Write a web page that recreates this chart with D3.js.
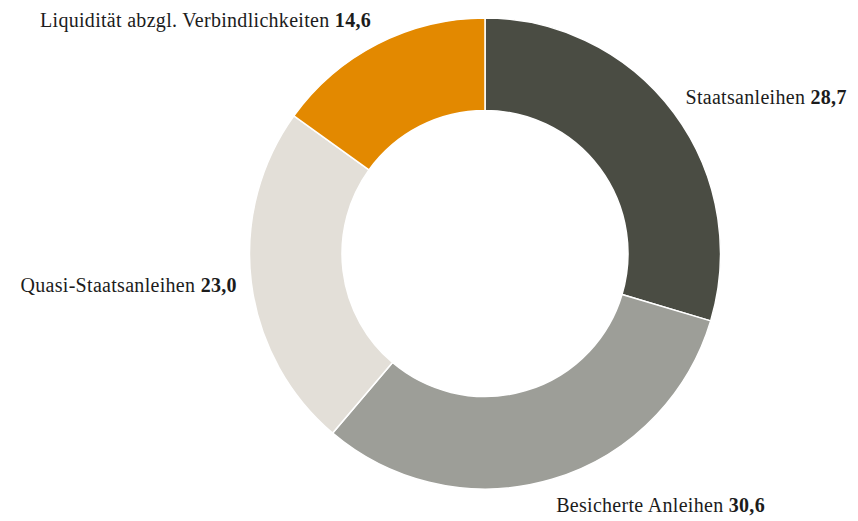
<!DOCTYPE html>
<html>
<head>
<meta charset="utf-8">
<script src="https://cdn.jsdelivr.net/npm/d3@7"></script>
<style>
  body { margin: 0; background: #fff; }
  text { font-family: "Liberation Serif", "DejaVu Serif", serif; font-size: 20px; letter-spacing: 0.3px; fill: #1c1c1c; }
</style>
</head>
<body>
<div id="chart"></div>
<script>
const width = 858, height = 521;

// Daten
const kategorien = ["Staatsanleihen", "Besicherte Anleihen", "Quasi-Staatsanleihen", "Liquidität abzgl. Verbindlichkeiten"];
const werte = [28.7, 30.6, 23.0, 14.6];
const farben = ["#4a4c43", "#9d9e98", "#e3dfd8", "#e38900"];

const data = kategorien.map((k, i) => ({ name: k, wert: werte[i], farbe: farben[i] }));

const cx = 485, cy = 253.5;
const rOuter = 235.5, rInner = 143;
// Beschriftungen liegen auf einer leichten Ellipse
const rLabelX = 250, rLabelY = 262;

const svg = d3.select("#chart")
    .append("svg")
    .attr("width", width)
    .attr("height", height);

const g = svg.append("g")
    .attr("transform", `translate(${cx},${cy})`);

const pie = d3.pie()
    .value(d => d.wert)
    .sort(null);

const arc = d3.arc()
    .innerRadius(rInner)
    .outerRadius(rOuter);

const arcs = pie(data);

// Segmente
g.selectAll("path")
    .data(arcs)
    .enter()
    .append("path")
    .attr("d", arc)
    .attr("fill", d => d.data.farbe)
    .attr("stroke", "#fff")
    .attr("stroke-width", 1.5);

// Beschriftungen
const fmt = v => v.toFixed(1).replace(".", ",");

const labels = g.selectAll(".label")
    .data(arcs)
    .enter()
    .append("text")
    .attr("class", "label")
    .attr("transform", d => {
        const a = (d.startAngle + d.endAngle) / 2;
        return `translate(${rLabelX * Math.sin(a)},${-rLabelY * Math.cos(a)})`;
    })
    .attr("dy", "0.35em")
    .attr("text-anchor", d => Math.sin((d.startAngle + d.endAngle) / 2) >= 0 ? "start" : "end");

labels.append("tspan").text(d => d.data.name + " ");
labels.append("tspan").attr("font-weight", "bold").text(d => fmt(d.data.wert));
</script>
</body>
</html>
